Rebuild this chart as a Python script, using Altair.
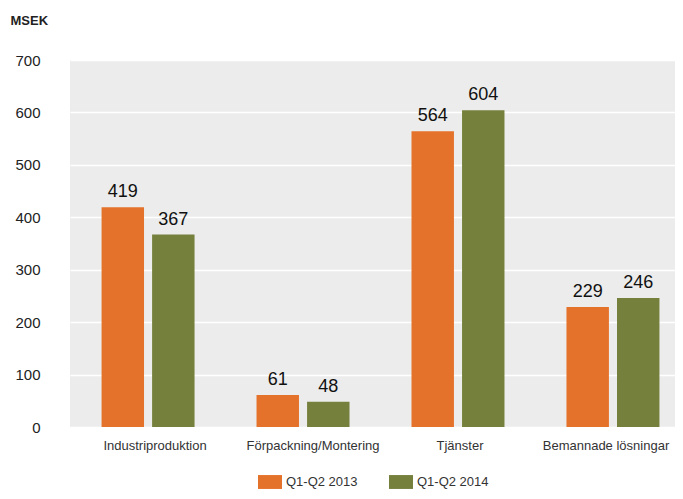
import altair as alt
import pandas as pd

categories = ["Industriproduktion", "Förpackning/Montering", "Tjänster", "Bemannade lösningar"]
series = ["Q1-Q2 2013", "Q1-Q2 2014"]
values_2013 = [419, 61, 564, 229]
values_2014 = [367, 48, 604, 246]
y_ticks = [0, 100, 200, 300, 400, 500, 600, 700]
colors = ["#E5722B", "#76803D"]

rows = []
for c, a, b in zip(categories, values_2013, values_2014):
    rows.append({"cat": c, "series": series[0], "value": a})
    rows.append({"cat": c, "series": series[1], "value": b})
df = pd.DataFrame(rows)

FONT = "Liberation Sans"

label_offset_expr = (
    "datum.value == 'Industriproduktion' ? 7 : "
    "datum.value == 'Förpackning/Montering' ? 10 : "
    "datum.value == 'Tjänster' ? 2 : -7"
)

base = alt.Chart(df).encode(
    x=alt.X(
        "cat:N",
        sort=categories,
        scale=alt.Scale(paddingInner=0.4, paddingOuter=0.152, align=0.67),
        axis=alt.Axis(
            title=None, labelAngle=0, labelFontSize=13, labelColor="#333333",
            labelPadding=12, domain=False, ticks=False, grid=False, labelFont=FONT,
            labelOffset=alt.ExprRef(label_offset_expr),
        ),
    ),
    xOffset=alt.XOffset("series:N", sort=series, scale=alt.Scale(paddingInner=0.16, paddingOuter=0)),
    y=alt.Y(
        "value:Q",
        scale=alt.Scale(domain=[0, 700]),
        axis=alt.Axis(
            values=y_ticks, title="MSEK", titleAngle=0, titleAlign="left",
            titleBaseline="alphabetic", titleX=-60, titleY=-36, titleFontSize=13,
            titleFontWeight="bold", titleFont=FONT, titleColor="#222222",
            labelFontSize=15, labelFont=FONT, labelColor="#222222", labelPadding=30,
            domain=False, ticks=False, gridColor="#FFFFFF", gridWidth=1.5,
        ),
    ),
)

bars = base.mark_bar().encode(
    color=alt.Color(
        "series:N",
        sort=series,
        scale=alt.Scale(domain=series, range=colors),
        legend=alt.Legend(
            title=None, orient="none", legendX=188, legendY=410, direction="horizontal",
            symbolType="M-1,-0.58L1,-0.58L1,0.58L-1,0.58Z", symbolSize=576,
            symbolStrokeWidth=0, symbolOpacity=1, labelFontSize=13, labelFont=FONT,
            labelColor="#333333", labelOffset=4, columnPadding=31, padding=0,
        ),
    )
)

text = base.mark_text(dy=-10, baseline="alphabetic", fontSize=18, font=FONT, color="#111111").encode(
    text="value:Q"
)

chart = (bars + text).properties(
    width=605,
    height=367,
    autosize=alt.AutoSizeParams(type="none"),
    padding={"left": 62, "top": 52, "right": 0, "bottom": 64},
).configure_view(fill="#EBECEB", stroke=None)

chart.save("out.html", embed_options={"renderer": "svg", "actions": False})
